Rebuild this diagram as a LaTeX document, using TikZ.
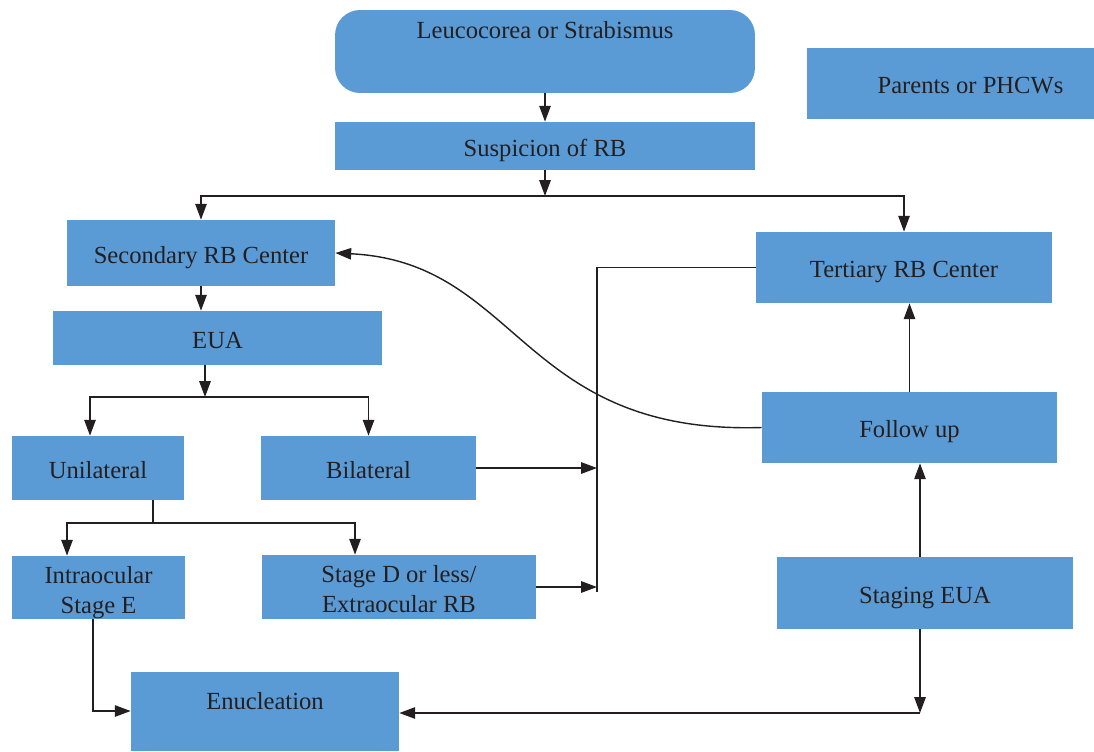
\documentclass[tikz,border=0pt]{standalone}
\usepackage{fontspec}
\setmainfont{Liberation Serif}
\usetikzlibrary{arrows.meta}
\definecolor{boxblue}{HTML}{5B9BD5}
\definecolor{inkblack}{HTML}{231F20}

\begin{document}
\begin{tikzpicture}[x = 0.02cm, y = -0.02cm,
		blk/.style = {fill = boxblue, text = inkblack, inner sep = 0pt, align = center, text height = 0.55cm, text depth = 0.15cm, font = \fontsize{14}{17}\selectfont},
		ln/.style = {draw = inkblack, line width = 0.8pt},
		arr/.style = {ln, -{Triangle[length = 9pt, width = 6.5pt]}}]
			\useasboundingbox (0, 0) rectangle (1094, 751);
			
			\node[blk, rounded corners = 0.5cm, minimum width = 8.4cm, minimum height = 1.66cm, text height = 0.56cm, text depth = 1.1cm] (leuco) at (545, 51.5) {Leucocorea or Strabismus};
			\node[blk, minimum width = 5.74cm, minimum height = 1.42cm] (parents) at (950.5, 83.5) {\hspace*{0.8cm}Parents or PHCWs};
			\node[blk, minimum width = 8.4cm, minimum height = 0.96cm] (susp) at (545, 146) {Suspicion of RB};
			\node[blk, minimum width = 5.36cm, minimum height = 1.32cm] (second) at (201, 253) {Secondary RB Center};
			\node[blk, minimum width = 5.92cm, minimum height = 1.42cm] (tert) at (904, 267.5) {Tertiary RB Center};
			\node[blk, minimum width = 6.58cm, minimum height = 1.08cm] (eua) at (217.5, 338) {EUA};
			\node[blk, minimum width = 3.44cm, minimum height = 1.28cm] (uni) at (98, 468) {Unilateral};
			\node[blk, minimum width = 4.3cm, minimum height = 1.28cm] (bil) at (368.5, 468) {Bilateral};
			\node[blk, minimum width = 3.46cm, minimum height = 1.26cm, text height = 1.12cm, text depth = 0.1cm] (intra) at (98.5, 587.5) {Intraocular\\Stage E};
			\node[blk, minimum width = 5.48cm, minimum height = 1.28cm, text height = 1.12cm, text depth = 0.1cm] (stage) at (399, 587) {Stage D or less/\\Extraocular RB};
			\node[blk, minimum width = 5.9cm, minimum height = 1.42cm] (follow) at (909.5, 427.5) {Follow up};
			\node[blk, minimum width = 5.92cm, minimum height = 1.44cm] (staging) at (925, 593) {Staging EUA};
			\node[blk, minimum width = 5.36cm, minimum height = 1.58cm, text height = 0.74cm, text depth = 0.84cm] (enuc) at (265, 711.5) {Enucleation};
			
			\coordinate (hub) at (545, 196);
			\coordinate (euahub) at (205, 397);
			\coordinate (unihub) at (153, 523);
			\coordinate (bus) at (597, 592);
			\coordinate (corner) at (920, 713);
			\coordinate (intracorner) at (93, 711);
			
			\draw[arr] (leuco.south) -- (susp.north);
			\draw[arr] (susp.south) -- (hub);
			\foreach \t in {second, tert} {
				\draw[arr] (hub) -| (\t.north);
			}
			\draw[arr] (second.south) -- (second.south |- eua.north);
			\draw[arr] (euahub |- eua.south) -- (euahub);
			\draw[arr] (euahub) -| ([xshift = -0.16cm]uni.north);
			\draw[arr] (euahub) -| (bil.north);
			
			\draw[ln] (unihub |- uni.south) -- (unihub);
			\draw[arr] (unihub) -| ([xshift = -0.63cm]intra.north);
			\draw[arr] (unihub) -| ([xshift = -0.88cm]stage.north);
			
			\draw[ln] (tert.west) -| (bus);
			\foreach \s in {bil, stage} {
				\draw[arr] (\s.east) -- (\s.east -| bus);
			}
			
			\draw[arr] (follow.west) .. controls (520, 435) and (520, 262) .. (second.east);
			\draw[arr] (follow.north) -- (follow.north |- tert.south);
			\draw[arr] (corner |- staging.north) -- (corner |- follow.south);
			\draw[arr] (corner |- staging.south) -- (corner);
			\draw[arr] (corner) -- (corner -| enuc.east);
			\draw[arr] (intracorner |- intra.south) -- (intracorner) -- (intracorner -| enuc.west);
		\end{tikzpicture}
\end{document}
